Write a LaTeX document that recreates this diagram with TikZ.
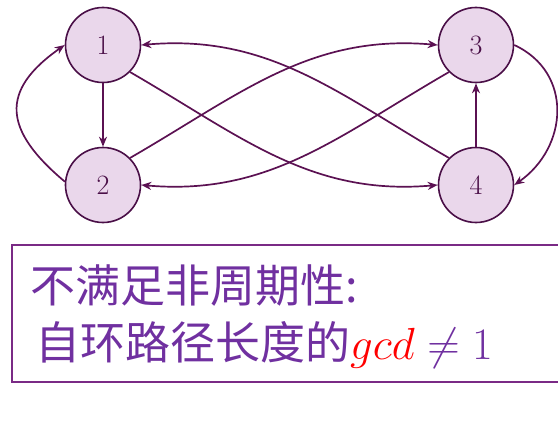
\RequirePackage{fix-cm}
\documentclass[tikz,border=0pt]{standalone}
\usepackage{amsmath}
\usepackage{amssymb}
\usepackage{fontspec}
\usetikzlibrary{arrows.meta}
\newfontfamily\cjk{Noto Sans CJK SC}
\definecolor{nodefill}{HTML}{EAD7EB}
\definecolor{nodeline}{HTML}{4A0F47}
\definecolor{edgeline}{HTML}{5B1152}
\definecolor{boxpurple}{HTML}{7A2A85}
\definecolor{textpurple}{HTML}{7030A0}

\begin{document}
\begin{tikzpicture}[x=1pt,y=1pt]
\tikzstyle{state}=[circle,draw=nodeline,fill=nodefill,line width=1.6pt,minimum size=75pt,inner sep=0pt,text=nodeline,font=\fontsize{28}{32}\selectfont]
\tikzstyle{trans}=[draw=edgeline,line width=1.7pt,-{Stealth[length=10pt,width=8pt]}]
\tikzstyle{words}=[anchor=base west,inner sep=0pt,text=textpurple,font=\cjk\fontsize{45}{56}\selectfont]
\useasboundingbox (0,0) rectangle (558,-431);
\node [state] (n1) at (103,-45) {1};
\node [state] (n2) at (103,-185) {2};
\node [state] (n3) at (476,-45) {3};
\node [state] (n4) at (476,-185) {4};
\draw [trans] (n1) -- (n2);
\draw [trans] (n4) -- (n3);
\draw [trans] (n2.175) to [out=140,in=215,looseness=1.5] (n1.west);
\draw [trans] (n3.east) to [out=-25,in=35,looseness=1.2] (n4.east);
\draw [trans] (n2.45) to [out=30,in=175] (n3.west);
\draw [trans] (n4.135) to [out=150,in=5] (n1.east);
\draw [trans] (n1.-45) to [out=-30,in=185] (n4.west);
\draw [trans] (n3.-135) to [out=210,in=-5] (n2.east);
% text box below the graph
\draw [boxpurple,line width=1.5pt] (12,-245) rectangle (575,-382);
\node [words] (line1) at (30,-302) {不满足非周期性:};
\node [words] (line2) at (35,-359) {自环路径长度的$\textcolor{red}{gcd}\neq 1$};
\end{tikzpicture}
\end{document}
